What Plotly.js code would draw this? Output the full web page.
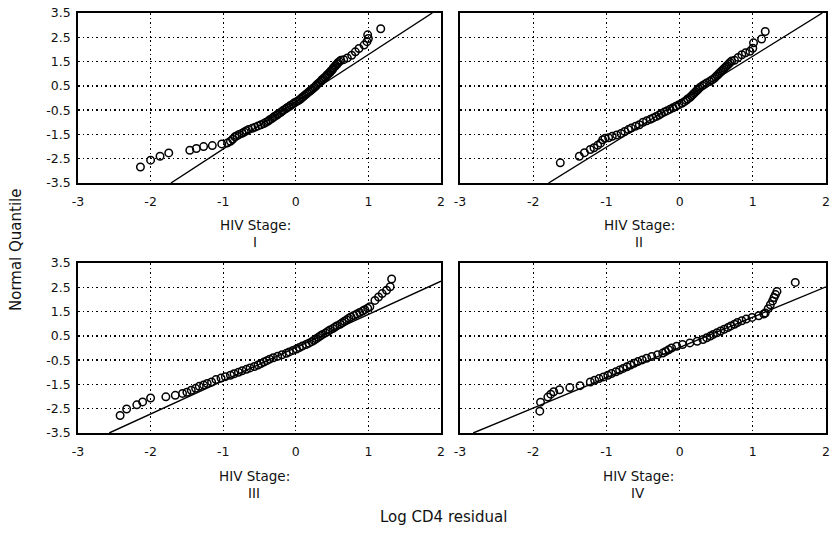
<!DOCTYPE html>
<html>
<head>
<meta charset="utf-8">
<script src="https://cdn.plot.ly/plotly-3.0.1.min.js"></script>
<style>html,body{margin:0;padding:0;background:#fff;}#chart{width:834px;height:541px;}</style>
</head>
<body>
<div id="chart"></div>
<script>
// ---- Data (x = Log CD4 residual, y = normal quantile) ----
const stage1X = [-2.14,-2.00,-1.87,-1.75,-1.46,-1.37,-1.27,-1.15,-1.02,-0.94,-0.90,-0.87,
  -0.84,-0.81,-0.78,-0.74,-0.71,-0.68,-0.65,-0.60,-0.56,-0.52,-0.48,-0.44,-0.41,-0.38,-0.36,-0.33,-0.31,-0.29,-0.26,-0.24,-0.21,
  -0.19,-0.17,-0.14,-0.12,-0.09,-0.07,-0.04,-0.02,0.01,0.04,0.06,0.08,0.10,0.12,0.14,0.16,0.18,0.20,0.22,0.24,0.26,0.28,
  0.29,0.31,0.33,0.35,0.36,0.38,0.40,0.42,0.43,0.45,0.47,0.48,0.50,0.51,0.52,0.54,0.55,0.57,0.58,0.60,0.62,
  0.66,0.71,0.77,0.82,0.87,0.94,0.98,1.00,0.99,1.17];
const stage1Y = [-2.84,-2.56,-2.40,-2.26,-2.15,-2.08,-2.00,-1.96,-1.89,-1.85,-1.78,-1.70,
  -1.60,-1.55,-1.50,-1.45,-1.40,-1.35,-1.30,-1.25,-1.20,-1.15,-1.10,-1.05,-1.00,-0.95,-0.90,-0.85,-0.80,-0.75,-0.70,-0.65,-0.60,
  -0.55,-0.50,-0.45,-0.40,-0.35,-0.30,-0.25,-0.20,-0.15,-0.10,-0.05,0.00,0.05,0.10,0.15,0.20,0.25,0.30,0.35,0.40,0.45,0.50,
  0.55,0.60,0.65,0.70,0.75,0.80,0.85,0.90,0.95,1.00,1.05,1.10,1.15,1.20,1.25,1.30,1.35,1.40,1.45,1.50,1.55,
  1.58,1.65,1.76,1.90,2.04,2.18,2.32,2.45,2.60,2.85];

const stage2X = [-1.63,-1.37,-1.30,-1.22,-1.17,-1.12,-1.08,-1.05,-1.02,-0.97,-0.92,-0.86,-0.80,-0.75,-0.70,-0.66,-0.60,-0.55,
  -0.50,-0.45,-0.40,-0.36,-0.32,-0.28,-0.25,-0.21,-0.17,-0.13,-0.09,-0.05,-0.01,0.03,0.06,0.09,0.11,0.14,0.16,0.18,0.20,0.22,
  0.24,0.26,0.28,0.31,0.34,0.37,0.41,0.44,0.47,0.49,0.51,0.53,0.55,0.57,0.59,0.61,0.63,0.65,0.67,0.69,0.71,
  0.75,0.80,0.85,0.90,0.96,1.00,1.01,1.12,1.17];
const stage2Y = [-2.67,-2.40,-2.25,-2.12,-2.05,-1.95,-1.86,-1.72,-1.66,-1.64,-1.58,-1.52,-1.46,-1.38,-1.30,-1.24,-1.16,-1.10,
  -1.00,-0.94,-0.88,-0.82,-0.76,-0.70,-0.64,-0.58,-0.52,-0.46,-0.40,-0.34,-0.28,-0.22,-0.16,-0.10,-0.04,0.02,0.08,0.14,0.20,0.26,
  0.32,0.38,0.44,0.50,0.56,0.62,0.68,0.74,0.80,0.86,0.92,0.98,1.04,1.10,1.16,1.22,1.28,1.34,1.40,1.46,1.52,
  1.55,1.67,1.78,1.86,1.92,2.05,2.27,2.43,2.74];

const stage3X = [-2.42,-2.33,-2.19,-2.11,-2.00,-1.79,-1.66,-1.56,-1.50,-1.44,-1.38,-1.33,-1.27,-1.22,-1.16,
  -1.10,-1.03,-0.97,-0.90,-0.85,-0.79,-0.74,-0.68,-0.63,-0.57,-0.52,-0.48,-0.44,-0.40,-0.36,-0.31,-0.25,-0.19,-0.13,-0.09,
  -0.04,0.01,0.05,0.09,0.14,0.18,0.22,0.25,0.28,0.31,0.34,0.37,0.41,0.44,0.47,0.51,0.54,0.57,0.61,0.64,0.67,0.70,0.73,
  0.76,0.80,0.84,0.88,0.92,0.95,0.99,1.02,
  1.09,1.14,1.19,1.25,1.30,1.32];
const stage3Y = [-2.78,-2.51,-2.34,-2.22,-2.06,-2.01,-1.95,-1.87,-1.82,-1.74,-1.66,-1.58,-1.52,-1.46,-1.40,
  -1.30,-1.24,-1.18,-1.12,-1.06,-1.00,-0.94,-0.88,-0.82,-0.76,-0.70,-0.64,-0.58,-0.52,-0.46,-0.40,-0.34,-0.28,-0.22,-0.16,
  -0.10,-0.04,0.02,0.08,0.14,0.20,0.26,0.32,0.38,0.44,0.50,0.56,0.62,0.68,0.74,0.80,0.86,0.92,0.98,1.04,1.10,1.16,1.22,
  1.28,1.34,1.40,1.46,1.52,1.58,1.64,1.70,
  1.96,2.10,2.24,2.38,2.52,2.84];

const stage4X = [-1.91,-1.90,-1.80,-1.76,-1.72,-1.64,-1.50,-1.36,
  -1.22,-1.16,-1.10,-1.04,-0.98,-0.93,-0.87,-0.82,-0.77,-0.72,-0.67,-0.62,-0.57,-0.51,-0.45,-0.38,-0.30,-0.23,-0.19,-0.15,
  -0.11,-0.04,0.04,0.14,0.24,0.32,0.37,0.42,0.46,0.51,0.56,0.61,0.66,0.70,0.75,0.79,0.85,0.91,0.99,1.08,1.15,
  1.17,1.21,1.24,1.27,1.29,1.31,1.33,1.58];
const stage4Y = [-2.60,-2.23,-2.02,-1.90,-1.80,-1.72,-1.63,-1.55,
  -1.40,-1.33,-1.26,-1.19,-1.12,-1.05,-0.98,-0.91,-0.84,-0.77,-0.70,-0.63,-0.56,-0.49,-0.42,-0.35,-0.28,-0.21,-0.14,-0.07,
  0.00,0.07,0.14,0.21,0.28,0.35,0.42,0.49,0.56,0.63,0.70,0.77,0.84,0.91,0.98,1.05,1.12,1.19,1.26,1.33,1.40,
  1.44,1.62,1.78,1.94,2.08,2.20,2.33,2.70];

// Reference (normal) lines: end points
const fit1X = [-1.72, 1.88], fit1Y = [-3.5, 3.5];
const fit2X = [-1.79, 1.95], fit2Y = [-3.5, 3.5];
const fit3X = [-2.57, 2.00], fit3Y = [-3.5, 2.75];
const fit4X = [-2.82, 2.00], fit4Y = [-3.5, 2.52];

const stageNames = ['I', 'II', 'III', 'IV'];
const xTickVals = [-3, -2, -1, 0, 1, 2];
const xTickText = ['-3', '-2', '-1', '0', '1', '2'];
const yTickVals = [-3.5, -2.5, -1.5, -0.5, 0.5, 1.5, 2.5, 3.5];
const yTickText = ['-3.5', '-2.5', '-1.5', '-0.5', '0.5', '1.5', '2.5', '3.5'];

// ---- Build ----
const W = 834, H = 541;
const px = v => v / W, py = v => 1 - v / H;
const FONT = 'DejaVu Sans, Liberation Sans, Arial, sans-serif';

const sets = [
  {x: stage1X, y: stage1Y, fx: fit1X, fy: fit1Y},
  {x: stage2X, y: stage2Y, fx: fit2X, fy: fit2Y},
  {x: stage3X, y: stage3Y, fx: fit3X, fy: fit3Y},
  {x: stage4X, y: stage4Y, fx: fit4X, fy: fit4Y}
];
const xDom = [[px(78), px(441)], [px(460), px(826)]];
const yDom = [[py(183), py(13)], [py(433), py(263)]];
const centers = [255, 639, 254, 638];
const rowTop = [0, 0, 1, 1];

const traces = [];
const layout = {
  width: W, height: H,
  margin: {l: 0, r: 0, t: 0, b: 0},
  paper_bgcolor: '#fff', plot_bgcolor: '#fff',
  showlegend: false,
  font: {family: FONT, color: '#111', size: 12},
  annotations: []
};

sets.forEach((s, i) => {
  const n = i + 1;
  const xa = n === 1 ? 'x' : 'x' + n;
  const ya = n === 1 ? 'y' : 'y' + n;
  traces.push({
    type: 'scatter', mode: 'lines', x: s.fx, y: s.fy, xaxis: xa, yaxis: ya,
    line: {color: '#000', width: 1.4}, hoverinfo: 'skip'
  });
  traces.push({
    type: 'scatter', mode: 'markers', x: s.x, y: s.y, xaxis: xa, yaxis: ya,
    marker: {symbol: 'circle-open', size: 7.5, color: '#000', line: {width: 1.5, color: '#000'}}
  });
  const col = i % 2, row = rowTop[i];
  layout['xaxis' + (n === 1 ? '' : n)] = {
    domain: xDom[col], anchor: ya, range: [-3, 2],
    tickmode: 'array', tickvals: xTickVals, ticktext: xTickText,
    showgrid: true, gridcolor: '#000', griddash: '1.5px,3px', gridwidth: 1.3,
    zeroline: false, showline: true, mirror: true, linecolor: '#000', linewidth: 1.8,
    ticks: '', ticklabelstandoff: 6,
    tickfont: {family: FONT, size: 12.5, color: '#111'}
  };
  layout['yaxis' + (n === 1 ? '' : n)] = {
    domain: yDom[row], anchor: xa, range: [-3.5, 3.5],
    tickmode: 'array', tickvals: yTickVals, ticktext: yTickText,
    showticklabels: col === 0,
    showgrid: true, gridcolor: '#000', griddash: '1.5px,3px', gridwidth: 1.3,
    zeroline: false, showline: true, mirror: true, linecolor: '#000', linewidth: 1.8,
    ticks: '', ticklabelstandoff: 3,
    tickfont: {family: FONT, size: 12.5, color: '#111'}
  };
  const baseY = row === 0 ? 225 : 476;
  layout.annotations.push({
    xref: 'paper', yref: 'paper', x: px(centers[i]), y: py(baseY),
    text: 'HIV Stage:', showarrow: false, xanchor: 'center', yanchor: 'middle',
    font: {family: FONT, size: 13.5, color: '#111'}
  });
  layout.annotations.push({
    xref: 'paper', yref: 'paper', x: px(centers[i]), y: py(baseY + 17),
    text: stageNames[i], showarrow: false, xanchor: 'center', yanchor: 'middle',
    font: {family: FONT, size: 13.5, color: '#111'}
  });
});

layout.annotations.push({
  xref: 'paper', yref: 'paper', x: px(16), y: py(250),
  text: 'Normal Quantile', textangle: -90, showarrow: false,
  xanchor: 'center', yanchor: 'middle',
  font: {family: FONT, size: 15, color: '#111'}
});
layout.annotations.push({
  xref: 'paper', yref: 'paper', x: px(443), y: py(517),
  text: 'Log CD4 residual', showarrow: false,
  xanchor: 'center', yanchor: 'middle',
  font: {family: FONT, size: 15, color: '#111'}
});

Plotly.newPlot('chart', traces, layout, {displayModeBar: false, staticPlot: true});
</script>
</body>
</html>
